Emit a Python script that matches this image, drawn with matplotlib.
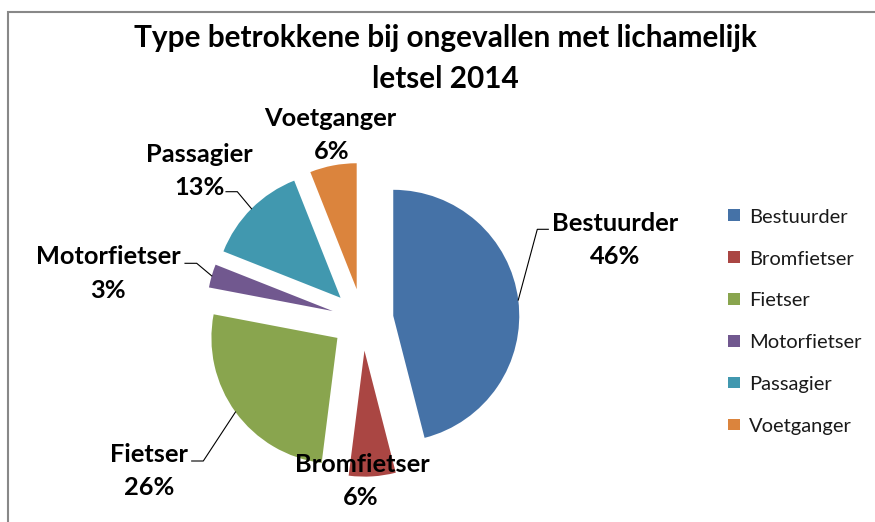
import matplotlib
matplotlib.use("Agg")
import matplotlib.pyplot as plt
from matplotlib.patches import Rectangle
import numpy as np

# ---- data ----
categories = ["Bestuurder", "Bromfietser", "Fietser", "Motorfietser", "Passagier", "Voetganger"]
percentages = [46, 6, 26, 3, 13, 6]
colors = ["#4572A7", "#AA4643", "#89A54E", "#71588F", "#4198AF", "#DB843D"]
title_lines = ["Type betrokkene bij ongevallen met lichamelijk", "letsel 2014"]

W, H = 875, 522
plt.rcParams['font.family'] = ['Lato', 'DejaVu Sans']

fig = plt.figure(figsize=(W / 100, H / 100), dpi=100)
ax = fig.add_axes([0, 0, 1, 1])

def Y(py):
    return H - py

# pie geometry (pixels)
cx, cy, R = 362.5, 319.7, 126
explode_frac = 0.246

wedges, _ = ax.pie(percentages, colors=colors, startangle=90, counterclock=False,
                   center=(cx, Y(cy)), radius=R,
                   explode=[explode_frac * R] * len(percentages),
                   wedgeprops=dict(linewidth=0))
ax.set_xlim(0, W)
ax.set_ylim(0, H)
ax.set_aspect('auto')
ax.axis('off')

# chart border
ax.add_patch(Rectangle((8.3, Y(600)), 1000, 600 - 12.3, fill=False,
                       edgecolor="#888888", linewidth=1.5, zorder=0))

# title
for line, base in zip(title_lines, [46.5, 88.0]):
    ax.text(445.5, Y(base), line, ha='center', va='baseline',
            fontsize=21.4, fontweight='bold', color='black')

# data labels: (name center x, name baseline y, pct center x); leader (elbow x, end x, y)
label_pos = {
    "Bestuurder": (615.2, 230.7, 615.5, (537.3, 548.3, 229.3)),
    "Bromfietser": (362.0, 471.7, 360.7, None),
    "Fietser": (148.7, 461.7, 149.2, (203.3, 191.7, 461.0)),
    "Motorfietser": (108.8, 264.3, 107.5, (196.7, 185.0, 263.3)),
    "Passagier": (199.5, 161.7, 199.2, (237.3, 226.0, 191.7)),
    "Voetganger": (330.3, 125.7, 331.2, None),
}
line_gap = 33.5
for w, name, pct in zip(wedges, categories, percentages):
    nx, nb, px_, leader = label_pos[name]
    ax.text(nx, Y(nb), name, ha='center', va='baseline', fontsize=18.3, fontweight='bold')
    ax.text(px_, Y(nb + line_gap), f"{pct}%", ha='center', va='baseline', fontsize=18.3, fontweight='bold')
    if leader is not None:
        th = np.deg2rad((w.theta1 + w.theta2) / 2)
        ax_, ay_ = w.center[0] + w.r * np.cos(th), w.center[1] + w.r * np.sin(th)
        ex, ex2, ly = leader
        ax.plot([ax_, ex, ex2], [ay_, Y(ly), Y(ly)], color='black', linewidth=0.8,
                solid_joinstyle='miter')

# legend
for i, (name, col) in enumerate(zip(categories, colors)):
    yc = 215.0 + 41.9 * i
    ax.add_patch(Rectangle((728.3, Y(yc + 5.8)), 11.6, 11.6, facecolor=col, edgecolor='none'))
    ax.text(749.3, Y(yc + 7.7), name, ha='left', va='baseline', fontsize=14.5, color='#1a1a1a')

fig.savefig("out.png", dpi=100)
